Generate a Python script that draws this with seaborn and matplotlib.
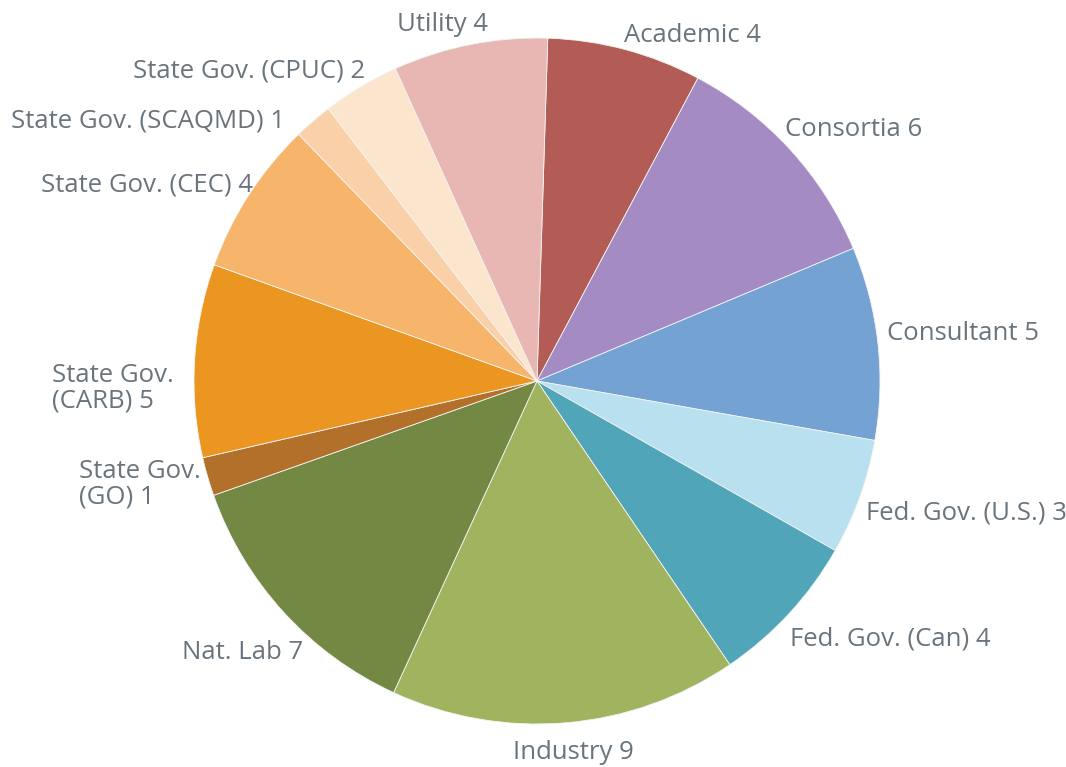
import numpy as np
import matplotlib
matplotlib.use("Agg")
import matplotlib.pyplot as plt
import seaborn as sns

# Stakeholder counts, clockwise from the top
labels = ["Academic 4", "Consortia 6", "Consultant 5", "Fed. Gov. (U.S.) 3",
          "Fed. Gov. (Can) 4", "Industry 9", "Nat. Lab 7", "State Gov.\n(GO) 1",
          "State Gov.\n(CARB) 5", "State Gov. (CEC) 4", "State Gov. (SCAQMD) 1",
          "State Gov. (CPUC) 2", "Utility 4"]
counts = [4, 6, 5, 3, 4, 9, 7, 1, 5, 4, 1, 2, 4]
colors = ["#B35C56", "#A48BC3", "#74A2D3", "#B8E0EE", "#50A6B8", "#A0B35F",
          "#738842", "#B2702A", "#EC9622", "#F6B56B", "#FAD0A8", "#FCE5CD",
          "#E8B7B4"]
# radial distance of each label (in pie radii) and a small nudge in pixels
label_dist = [1.05, 1.06, 1.04, 1.03, 1.04, 1.06, 1.07, 1.06, 1.06, 1.05, 1.05, 1.06, 1.05]
label_nudge = [(-6, -3), (-21, 6), (-5, 8), (-3, -12), (-9, -16), (6, -9), (37, -24),
               (13, -2), (0, -29), (18, 0), (-17, -13), (15, -2), (22, 3)]

sns.set_theme(style="white")
plt.rcParams['font.family'] = ['Open Sans', 'DejaVu Sans']

fig = plt.figure(figsize=(10.66, 7.67), dpi=100)
ax = fig.add_axes([0, 0, 1, 1])

wedges, _ = ax.pie(counts, colors=colors, startangle=88.2, counterclock=False,
                   radius=1, wedgeprops=dict(linewidth=0.6, edgecolor="#F4F4F4"))

text_color = "#6A747C"
for w, lab, d, nudge in zip(wedges, labels, label_dist, label_nudge):
    ang = np.deg2rad((w.theta1 + w.theta2) / 2)
    x, y = d * np.cos(ang), d * np.sin(ang)
    if abs(np.cos(ang)) < 0.12:
        ha = "center"
    else:
        ha = "left" if x > 0 else "right"
    ax.annotate(lab, (x, y), xytext=nudge, textcoords="offset pixels",
                ha=ha, va="center", fontsize=18.5, color=text_color,
                multialignment="left", linespacing=1.0)

# place centre at (537, 381) px with radius 343 px
scale = 343
ax.set_xlim(-537 / scale, (1066 - 537) / scale)
ax.set_ylim(-(767 - 381) / scale, 381 / scale)
ax.set_aspect("equal", adjustable="box")
ax.axis("off")

fig.savefig("out.png", dpi=100, facecolor="white")
